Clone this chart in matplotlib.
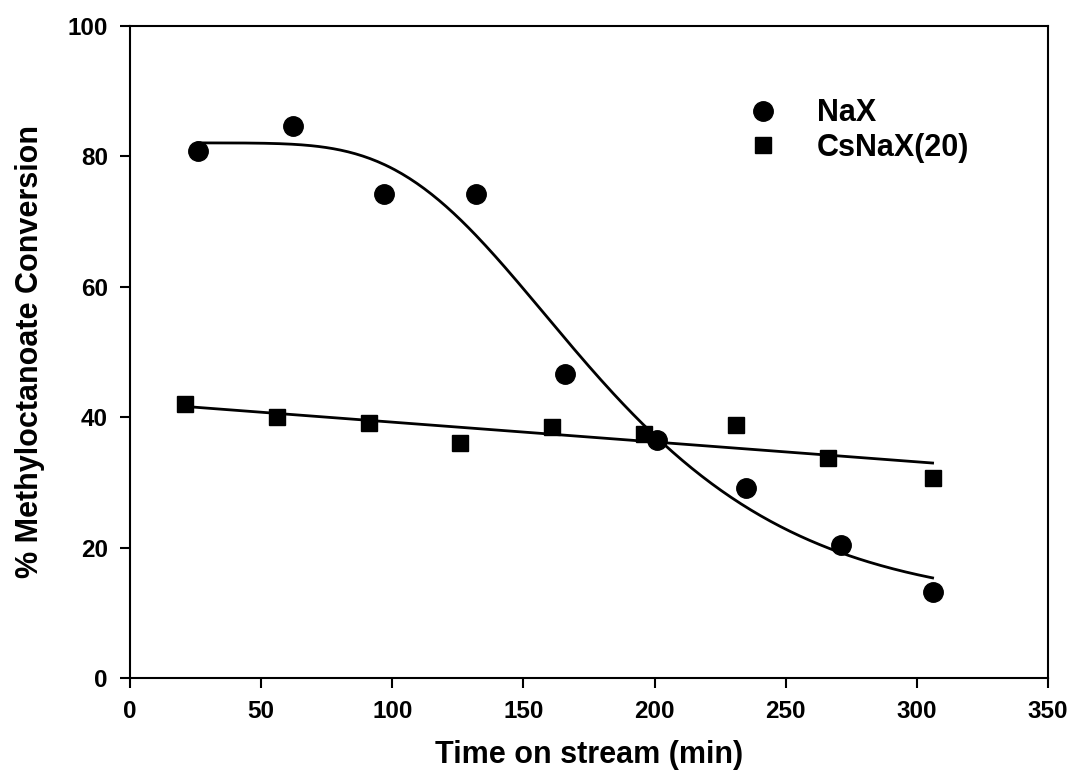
import numpy as np
import matplotlib
matplotlib.use("Agg")
import matplotlib.pyplot as plt

plt.rcParams['font.family'] = ['Liberation Sans', 'DejaVu Sans']
plt.rcParams['font.weight'] = 'bold'

# data
nax_time = np.array([26, 62, 97, 132, 166, 201, 235, 271, 306])
nax_conv = np.array([80.9, 84.7, 74.3, 74.3, 46.6, 36.5, 29.2, 20.4, 13.2])

csnax_time = np.array([21, 56, 91, 126, 161, 196, 231, 266, 306])
csnax_conv = np.array([42.1, 40.0, 39.1, 36.1, 38.5, 37.4, 38.8, 33.7, 30.6])

x_ticks = [0, 50, 100, 150, 200, 250, 300, 350]
y_ticks = [0, 20, 40, 60, 80, 100]


def fit_gompertz(x, y):
    # y = y0 + a * exp(-exp(-(x - x0) / b))
    # grid over x0, b; y0 and a by linear least squares
    best = None
    for x0 in np.arange(100, 260, 0.5):
        for b in np.arange(10, 120, 0.5):
            g = np.exp(-np.exp(-(x - x0) / b))
            A = np.column_stack([np.ones_like(g), g])
            coef = np.linalg.lstsq(A, y, rcond=None)[0]
            err = np.sum((A @ coef - y) ** 2)
            if best is None or err < best[0]:
                best = (err, x0, b, coef)
    _, x0, b, coef = best
    return lambda t: coef[0] + coef[1] * np.exp(-np.exp(-(t - x0) / b))


fig, ax = plt.subplots(figsize=(10.72, 7.81), dpi=100)
fig.subplots_adjust(left=0.1213, right=0.9776, top=0.9667, bottom=0.1319)

# fitted curves
curve = fit_gompertz(nax_time, nax_conv)
tt = np.linspace(nax_time[0], nax_time[-1], 300)
ax.plot(tt, curve(tt), color='black', lw=2.0)

p = np.polyfit(csnax_time, csnax_conv, 1)
tl = np.linspace(csnax_time[0], csnax_time[-1], 50)
ax.plot(tl, np.polyval(p, tl), color='black', lw=2.0)

ax.plot(nax_time, nax_conv, 'o', color='black', ms=14, ls='none', label='NaX')
ax.plot(csnax_time, csnax_conv, 's', color='black', ms=11, ls='none', label='CsNaX(20)')

ax.set_xlim(0, 350)
ax.set_ylim(0, 100)
ax.set_xticks(x_ticks)
ax.set_yticks(y_ticks)
ax.tick_params(direction='out', length=7, width=1.5, labelsize=17.5, pad=9)
for s in ax.spines.values():
    s.set_linewidth(1.5)

ax.set_xlabel('Time on stream (min)', fontsize=22, fontweight='bold', labelpad=12)
ax.set_ylabel('% Methyloctanoate Conversion', fontsize=22, fontweight='bold', labelpad=16)

leg = ax.legend(loc='upper left', bbox_to_anchor=(0.626, 0.931), frameon=False,
                fontsize=22, handletextpad=0.77, labelspacing=0.15, numpoints=1)

plt.savefig('out.png', dpi=100)
